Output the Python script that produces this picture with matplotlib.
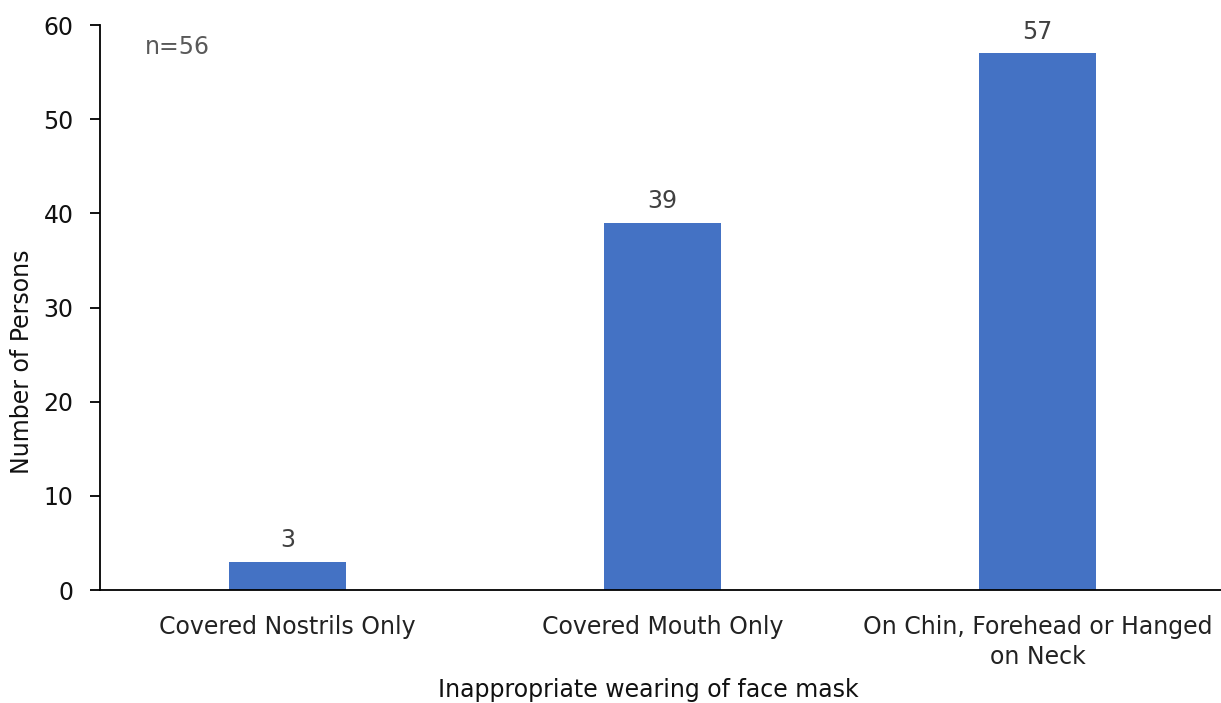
import matplotlib
matplotlib.use("Agg")
import matplotlib.pyplot as plt

categories = ["Covered Nostrils Only", "Covered Mouth Only", "On Chin, Forehead or Hanged\non Neck"]
values = [3, 39, 57]
yticks = [0, 10, 20, 30, 40, 50, 60]

W, H = 1221, 703
fig = plt.figure(figsize=(W/100, H/100), dpi=100)
left, right, top, bottom = 100, 1225, 25, 590
ax = fig.add_axes([left/W, 1-bottom/H, (right-left)/W, (bottom-top)/H])
x = list(range(len(categories)))
bars = ax.bar(x, values, width=0.312, color="#4472C4")
ax.set_xlim(-0.5, 2.5)
ax.set_ylim(0, 60)
ax.set_yticks(yticks)
ax.set_xticks(x)
ax.set_xticklabels(categories, fontsize=17, color="#222222", linespacing=1.3)
ax.tick_params(axis="x", length=0, pad=18)
ax.tick_params(axis="y", length=7, width=1.3, labelsize=17, labelcolor="#111111", pad=12, direction="out")
for s in ["top", "right"]:
    ax.spines[s].set_visible(False)
ax.spines["left"].set_linewidth(1.3)
ax.spines["bottom"].set_linewidth(1.3)
for xi, v in zip(x, values):
    ax.annotate(str(v), (xi, v), xytext=(0, 7), textcoords="offset points",
                ha="center", va="bottom", fontsize=17, color="#404040")
fig.text(145/W, 1-47/H, "n=56", fontsize=17, color="#595959", ha="left", va="center")
fig.text(22/W, 1-362/H, "Number of Persons", rotation=90, fontsize=17, color="#111111", ha="center", va="center")
fig.text(648/W, 1-690/H, "Inappropriate wearing of face mask", fontsize=17, color="#111111", ha="center", va="center")
fig.savefig("out.png", dpi=100)
